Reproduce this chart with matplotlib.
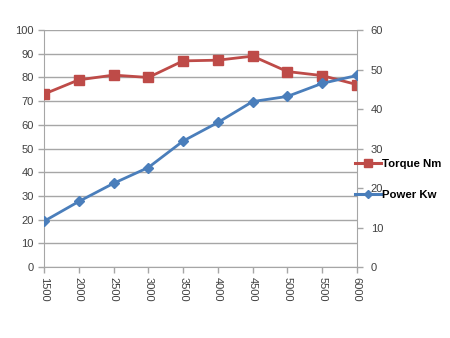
import matplotlib
matplotlib.use("Agg")
import matplotlib.pyplot as plt
from matplotlib.lines import Line2D

rpm = [1500, 2000, 2500, 3000, 3500, 4000, 4500, 5000, 5500, 6000]
torque_nm = [73, 79, 81, 80, 87, 87.3, 89, 82.5, 80.8, 77]
power_kw = [11.6, 16.6, 21.2, 25.2, 31.9, 36.6, 41.9, 43.2, 46.5, 48.5]
left_ticks = [0, 10, 20, 30, 40, 50, 60, 70, 80, 90, 100]
right_ticks = [0, 10, 20, 30, 40, 50, 60]

red = "#BE4B48"
blue = "#4A7EBB"
grey = "#A6A6A6"

plt.rcParams['font.family'] = ['Liberation Sans', 'DejaVu Sans']

fig = plt.figure(figsize=(4.5, 3.38), dpi=100)
ax = fig.add_axes([0.098, 0.21, 0.695, 0.701])
ax2 = ax.twinx()

x = list(range(len(rpm)))
ax.plot(x, torque_nm, color=red, lw=2, marker='s', ms=7, zorder=3)
ax2.plot(x, power_kw, color=blue, lw=2, marker='D', ms=5.5, zorder=3)

ax.set_xlim(0, len(rpm) - 1)
ax.set_ylim(0, 100)
ax2.set_ylim(0, 60)
ax.set_yticks(left_ticks)
ax2.set_yticks(right_ticks)
ax.set_xticks(x)
ax.set_xticklabels([str(r) for r in rpm], rotation=270)

ax.grid(axis='y', color=grey, lw=1)
ax.set_axisbelow(True)
for a in (ax, ax2):
    for s in a.spines.values():
        s.set_visible(False)
ax.spines['left'].set_visible(True)
ax.spines['left'].set_color(grey)
ax.spines['bottom'].set_visible(True)
ax.spines['bottom'].set_color(grey)
ax2.spines['right'].set_visible(True)
ax2.spines['right'].set_color(grey)

ax.tick_params(axis='both', colors=grey, labelcolor='#404040', labelsize=8, length=4, width=1)
ax2.tick_params(axis='y', colors=grey, labelcolor='#404040', labelsize=8, length=4, width=1, pad=6)
ax.tick_params(axis='x', pad=3)

handles = [Line2D([], [], color=red, lw=2.2, marker='s', ms=6),
           Line2D([], [], color=blue, lw=2.2, marker='D', ms=4)]
fig.legend(handles, ["Torque Nm", "Power Kw"], loc='center left',
           bbox_to_anchor=(0.765, 0.468), frameon=False,
           prop={'weight': 'bold', 'size': 8.2}, labelspacing=1.85,
           handlelength=2.3, handletextpad=0.15)

fig.savefig("out.png", dpi=100)
